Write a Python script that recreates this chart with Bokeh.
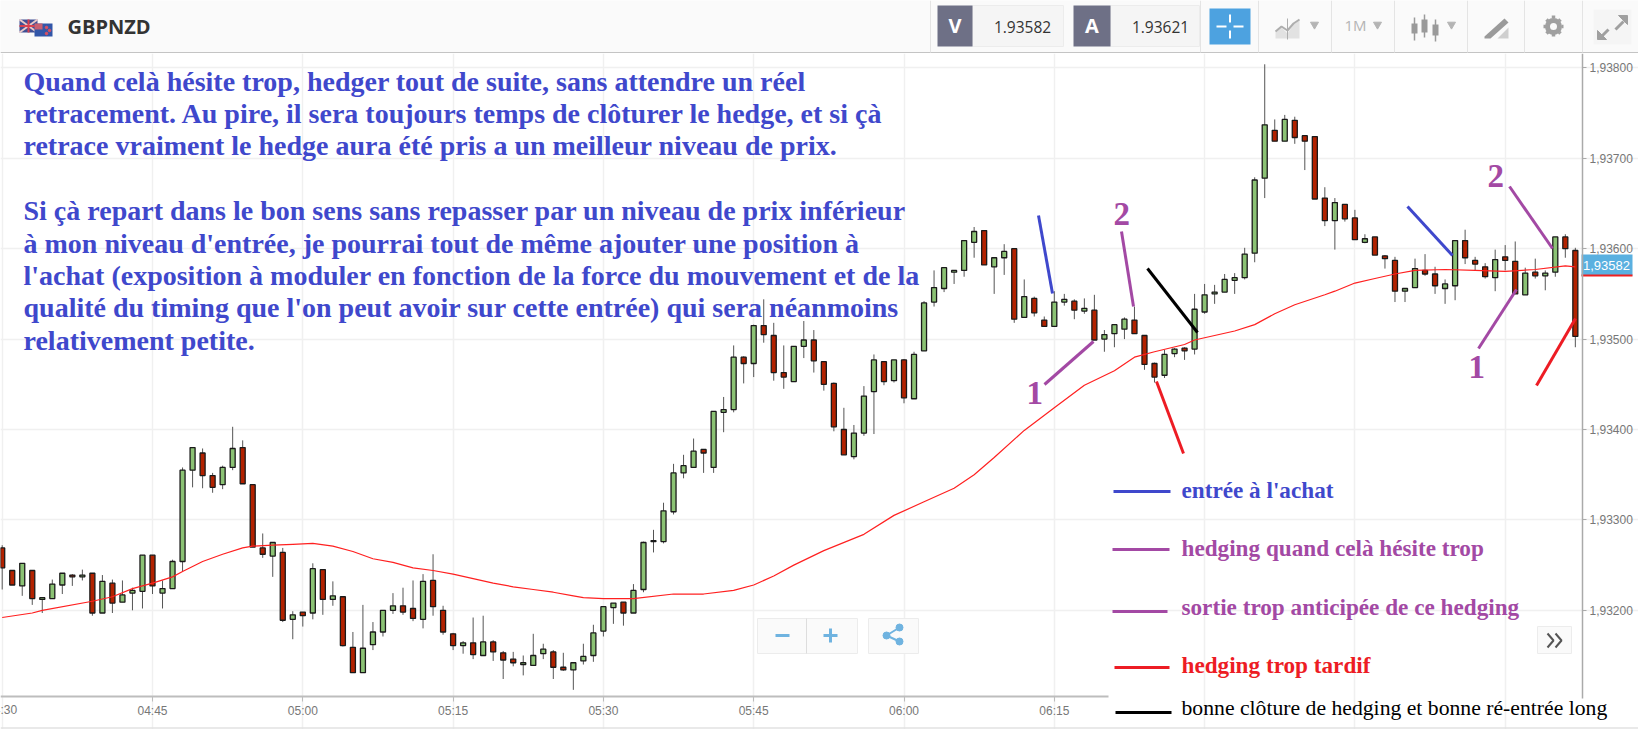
from bokeh.plotting import figure
from bokeh.layouts import column
from bokeh.models import Range1d, FixedTicker, CustomJSTickFormatter
from bokeh.core.properties import value
from bokeh.embed import file_html
from bokeh.resources import INLINE

# ---- data: one-minute candles, last five digits of the price (1.93xxx) ----
first_minute = 270  # 04:30
highs = [93272,93244,93252,93244,93214,93234,93241,93240,93245,93241,93239,93234,93233,93225,93261,93261,93233,93256,93358,93380,
93379,93352,93360,93403,93388,93339,93285,93275,93269,93199,93198,93252,93245,93232,93215,93176,93206,93187,93200,93219,
93225,93233,93240,93262,93205,93175,93166,93192,93194,93167,93155,93154,93150,93174,93163,93156,93153,93142,93163,93184,
93204,93208,93209,93229,93276,93289,93319,93362,93372,93390,93378,93420,93436,93493,93481,93516,93544,93518,93493,93492,
93520,93510,93475,93452,93424,93405,93448,93483,93475,93477,93478,93486,93542,93576,93579,93576,93609,93624,93620,93590,
93605,93600,93566,93547,93525,93553,93550,93544,93545,93549,93510,93516,93524,93536,93504,93474,93488,93490,93491,93550,
93561,93560,93572,93573,93601,93679,93804,93743,93748,93746,93725,93724,93668,93656,93649,93643,93616,93613,93593,93591,
93556,93589,93594,93580,93566,93609,93621,93591,93584,93599,93604,93608,93579,93589,93576,93613,93616,93601]
opens = [93269,93244,93227,93244,93212,93213,93228,93239,93237,93241,93197,93230,93209,93219,93221,93261,93219,93224,93254,93355,
93374,93349,93339,93358,93380,93339,93269,93260,93264,93190,93198,93197,93245,93212,93215,93159,93131,93162,93176,93200,
93205,93202,93190,93233,93200,93174,93161,93164,93150,93165,93153,93146,93140,93139,93152,93154,93137,93134,93144,93150,
93177,93203,93209,93197,93223,93276,93276,93309,93352,93358,93378,93358,93419,93422,93480,93473,93515,93504,93463,93453,
93492,93499,93475,93451,93400,93370,93396,93442,93475,93454,93477,93434,93487,93541,93556,93574,93576,93607,93620,93580,
93590,93600,93524,93545,93521,93514,93541,93542,93531,93532,93500,93506,93511,93521,93504,93473,93460,93484,93490,93489,
93530,93550,93552,93565,93568,93595,93678,93731,93719,93742,93725,93724,93656,93631,93649,93634,93607,93613,93592,93587,
93553,93557,93576,93572,93556,93559,93609,93587,93580,93568,93591,93586,93549,93574,93570,93574,93613,93598]
closes = [93247,93228,93252,93213,93214,93229,93241,93237,93239,93197,93232,93208,93217,93222,93261,93227,93224,93254,93355,93380,
93349,93336,93358,93379,93340,93270,93262,93275,93189,93195,93194,93246,93212,93216,93161,93131,93158,93176,93200,93205,
93198,93191,93232,93204,93176,93161,93164,93151,93165,93154,93145,93142,93142,93150,93157,93137,93134,93142,93149,93175,
93204,93208,93197,93222,93275,93277,93310,93352,93360,93376,93374,93420,93422,93480,93473,93515,93505,93463,93458,93492,
93499,93476,93450,93403,93372,93396,93437,93477,93453,93477,93435,93483,93540,93557,93579,93576,93609,93619,93582,93590,
93597,93522,93547,93529,93514,93541,93544,93532,93534,93499,93505,93516,93522,93506,93472,93458,93483,93489,93487,93533,
93549,93552,93566,93568,93594,93676,93737,93719,93743,93723,93719,93655,93631,93651,93633,93610,93611,93593,93589,93553,
93556,93578,93572,93559,93561,93609,93590,93583,93569,93588,93587,93550,93573,93570,93573,93613,93600,93503]
lows = [93223,93228,93216,93206,93197,93213,93218,93227,93233,93194,93197,93197,93209,93200,93202,93218,93202,93224,93243,93336,
93335,93330,93334,93355,93340,93270,93258,93237,93187,93168,93182,93190,93195,93205,93160,93131,93131,93156,93171,93196,
93195,93188,93180,93194,93173,93156,93152,93146,93150,93144,93124,93138,93128,93139,93146,93124,93133,93112,93140,93143,
93171,93185,93183,93197,93220,93264,93274,93306,93346,93358,93352,93352,93397,93419,93451,93458,93496,93454,93445,93453,
93479,93463,93443,93398,93372,93367,93393,93395,93449,93452,93429,93434,93487,93536,93552,93561,93569,93590,93582,93550,
93571,93518,93524,93525,93514,93514,93537,93522,93528,93499,93486,93491,93500,93506,93466,93452,93457,93480,93477,93483,
93528,93539,93552,93550,93566,93585,93656,93719,93719,93716,93687,93655,93625,93599,93630,93610,93606,93593,93578,93541,
93541,93557,93570,93550,93539,93543,93583,93576,93567,93553,93576,93550,93549,93567,93554,93569,93590,93491]

avg_minutes = [270,273,274,279,281,283,285,287,288,290,292,294,295,297,299,301,303,305,307,309,311,313,315,317,319,321,323,325,327,328,330,333,337,340,343,345,347,349,352,356,359,362,365,367,369,372,375,378,381,383,385,388,389,393,395,397,399,402,403,405,407,409,411,414,417,420,423,426,427]
avg_values = [93192,93197,93200,93210,93215,93224,93230,93237,93243,93254,93262,93269,93271,93272,93273,93274,93271,93265,93257,93253,93247,93244,93240,93235,93230,93226,93223,93220,93216,93214,93213,93213,93218,93218,93222,93228,93238,93250,93266,93284,93305,93320,93335,93350,93369,93399,93424,93449,93465,93480,93486,93494,93499,93509,93516,93528,93538,93549,93553,93562,93567,93572,93576,93577,93576,93575,93577,93581,93580]

price_ticks = [1.932, 1.933, 1.934, 1.935, 1.936, 1.937, 1.938]
time_ticks = [285, 300, 315, 330, 345, 360, 375]
time_labels = ["04:45", "05:00", "05:15", "05:30", "05:45", "06:00", "06:15"]
clipped_time_tick, clipped_time_label = 270, "04:30"
grid_times = [270, 285, 300, 315, 330, 345, 360, 375, 390, 405, 420]
symbol, bid, ask, last_price = "GBPNZD", "1.93582", "1.93621", "1,93582"

body_lines = ["Quand celà hésite trop, hedger tout de suite, sans attendre un réel",
 "retracement. Au pire, il sera toujours temps de clôturer le hedge, et si çà",
 "retrace vraiment le hedge aura été pris a un meilleur niveau de prix.",
 "",
 "Si çà repart dans le bon sens sans repasser par un niveau de prix inférieur",
 "à mon niveau d'entrée, je pourrai tout de même ajouter une position à",
 "l'achat (exposition à moduler en fonction de la force du mouvement et de la",
 "qualité du timing que l'on peut avoir sur cette entrée) qui sera néanmoins",
 "relativement petite."]

BLUE, PURPLE, RED, BLACK = "#3f48cc", "#a349a4", "#ed1c24", "#000000"
legend_items = [("entrée à l'achat", BLUE, "bold"), ("hedging quand celà hésite trop", PURPLE, "bold"),
 ("sortie trop anticipée de ce hedging", PURPLE, "bold"), ("hedging trop tardif", RED, "bold"),
 ("bonne clôture de hedging et bonne ré-entrée long", BLACK, "normal")]

# ---- page geometry (window pixels) ----
def wx(px): return 285 + (px - 152) / 10.02
def wy(py): return 1.934 + (429 - py) * 1.1062e-5
def price(v): return [1 + a / 1e5 for a in v]

# ---- header strip ----
h = figure(width=1638, height=53, x_range=Range1d(0, 1638), y_range=Range1d(53, 0),
           toolbar_location=None, output_backend="svg", min_border=0,
           x_axis_type=None, y_axis_type=None, background_fill_color="#fafafa", outline_line_color=None)
h.grid.visible = False
h.segment([0], [52.5], [1638], [52.5], line_color="#c4c4c4", line_width=2)
# flags
h.quad(left=[19], right=[37], top=[19], bottom=[32], fill_color="#3f4f94", line_color=None)
h.multi_line([[19, 37], [19, 37], [28, 28], [19, 37]], [[19, 32], [32, 19], [19, 32], [25.5, 25.5]],
             line_color=["#e8c8c8", "#e8c8c8", "#d8404f", "#d8404f"], line_width=2)
h.quad(left=[34], right=[52], top=[23], bottom=[36], fill_color="#3256a8", line_color=None)
h.quad(left=[34], right=[42], top=[23], bottom=[29], fill_color="#c86070", line_color=None)
h.scatter([46, 49, 46], [27, 30, 33], size=2.5, color="#e05060")
h.text([67], [26], text=[symbol], text_font=value("Open Sans"), text_font_style="bold",
       text_font_size="20px", text_color="#333333", text_baseline="alphabetic")
# separators
h.segment([930, 1200, 1258, 1331, 1394, 1467, 1524, 1582], [0] * 8, [930, 1200, 1258, 1331, 1394, 1467, 1524, 1582], [52] * 8,
          line_color="#e4e4e4", line_width=1)
# bid / ask boxes
h.quad(left=[972, 1110], right=[1063, 1199], top=[5, 5], bottom=[46, 46], fill_color="#f5f5f5", line_color="#ececec")
h.quad(left=[937, 1073], right=[972, 1110], top=[5, 5], bottom=[46, 46], fill_color="#6e7086", line_color=None)
h.text([954.5, 1091.5], [25, 25], text=["V", "A"], text_font=value("Open Sans"), text_font_style="bold", text_font_size="20px",
       text_color="#ffffff", text_align="center", text_baseline="alphabetic")
h.text([1022, 1160], [26, 26], text=[bid, ask], text_font=value("Open Sans"), text_font_size="15.5px",
       text_color="#333333", text_align="center", text_baseline="alphabetic")
# crosshair button
h.quad(left=[1209], right=[1250], top=[8], bottom=[44], fill_color="#4da2e0", line_color=None)
h.segment([1216, 1233, 1229.5, 1229.5], [26, 26, 14, 30], [1226, 1243, 1229.5, 1229.5], [26, 26, 22, 38], line_color="#ffffff", line_width=2)
# chart-type icon
h.patch([1275, 1275, 1281, 1287, 1293, 1299, 1299], [38, 31, 27, 33, 24, 20, 38], fill_color="#e2e2e2", line_color=None)
h.multi_line([[1275, 1281, 1287, 1293, 1299]], [[31, 26, 30, 23, 19]], line_color="#aeaeae", line_width=2)
h.segment([1287], [18], [1287], [39], line_color="#aeaeae", line_width=1)
# carets
h.scatter([1314, 1377, 1451], [24, 24, 24], marker="inverted_triangle", size=8, color="#b4b4b4")
h.text([1355], [24], text=["1M"], text_font=value("Open Sans"), text_font_size="15px", text_color="#b4b4b4",
       text_align="center", text_baseline="alphabetic")
# candle icon
h.segment([1414, 1424, 1435], [17, 14, 19], [1414, 1424, 1435], [40, 37, 41], line_color="#9a9a9a", line_width=1.5)
h.quad(left=[1411, 1421, 1432], right=[1417, 1427, 1438], top=[23, 19, 24], bottom=[33, 32, 35], fill_color="#9a9a9a", line_color=None)
# drawing icon
h.patch([1484, 1504, 1508, 1490, 1484], [36, 18, 22, 38, 38], fill_color="#9a9a9a", line_color=None)
h.patch([1497, 1508, 1508], [38, 38, 27], fill_color="#cfcfcf", line_color=None)
# gear icon
h.annulus([1553], [26], inner_radius=3.5, outer_radius=8.5, fill_color="#a0a0a0", line_color=None)
h.segment([1553, 1543, 1546, 1546], [15, 26, 19, 33], [1553, 1563, 1560, 1560], [37, 26, 33, 19], line_color="#a0a0a0", line_width=3.5, line_dash="3 15")
# expand icon
h.quad(left=[1593], right=[1631], top=[9], bottom=[44], fill_color="#f5f5f5", line_color=None)
h.segment([1600, 1615], [37, 29], [1608, 1623], [29, 21], line_color="#a0a0a0", line_width=3)
h.patch([1618, 1627, 1627], [15, 15, 24], fill_color="#a0a0a0", line_color="#a0a0a0")
h.patch([1597, 1597, 1606], [30, 39, 39], fill_color="#a0a0a0", line_color="#a0a0a0")

# ---- main chart ----
p = figure(width=1638, height=676, x_range=Range1d(wx(0), wx(1638)), y_range=Range1d(wy(729), wy(53)),
           toolbar_location=None, output_backend="svg", min_border=0, outline_line_color=None,
           x_axis_location="below", y_axis_location="right")
p.xgrid.ticker = FixedTicker(ticks=grid_times)
p.ygrid.ticker = FixedTicker(ticks=price_ticks)
p.grid.grid_line_color = "#f0f0f0"
p.grid.grid_line_width = 1.5

# hide grid beyond the axes
p.quad(left=[wx(1583)], right=[wx(1640)], top=[wy(53)], bottom=[wy(729)], fill_color="#ffffff", line_color=None, level="underlay")
p.quad(left=[wx(0)], right=[wx(1640)], top=[wy(696)], bottom=[wy(729)], fill_color="#ffffff", line_color=None, level="underlay")
p.segment([wx(0)], [wy(727.5)], [wx(1638)], [wy(727.5)], line_color="#e2e2e2", line_width=1.5)

xa = p.xaxis[0]
xa.fixed_location = wy(695.5)
xa.bounds = (wx(0), wx(1108))
xa.ticker = FixedTicker(ticks=time_ticks)
xa.major_label_overrides = dict(zip(time_ticks, time_labels))
xa.axis_line_color = "#bdbdbd"
xa.axis_line_width = 2
xa.major_tick_line_color = "#bdbdbd"
xa.major_tick_in = 0
xa.major_tick_out = 5
xa.minor_tick_line_color = None
xa.major_label_text_color = "#777777"
xa.major_label_text_font = "Liberation Sans"
xa.major_label_text_font_size = "12px"
xa.major_label_standoff = 3
# the first time label runs off the left edge of the chart, as in the reference
p.text([clipped_time_tick], [wy(709)], text=[clipped_time_label], text_font=value("Liberation Sans"), text_font_size="12px",
       text_color="#777777", text_align="center", text_baseline="middle")

ya = p.yaxis[0]
ya.fixed_location = wx(1582)
ya.bounds = (wy(698), wy(53))
ya.ticker = FixedTicker(ticks=price_ticks)
ya.formatter = CustomJSTickFormatter(code="return tick.toFixed(5).replace('.', ',')")
ya.axis_line_color = "#aaaaaa"
ya.axis_line_width = 1.5
ya.major_tick_line_color = "#aaaaaa"
ya.major_tick_in = 0
ya.major_tick_out = 4
ya.minor_tick_line_color = None
ya.major_label_text_color = "#777777"
ya.major_label_text_font = "Liberation Sans"
ya.major_label_text_font_size = "12px"
ya.major_label_standoff = 3

minutes = [first_minute + i for i in range(len(highs))]
fills = ["#8bc274" if c >= o else "#b22200" for o, c in zip(opens, closes)]
p.segment(minutes, price(highs), minutes, price(lows), line_color="#555555", line_width=1)
p.vbar(x=minutes, width=0.5, top=price(closes), bottom=price(opens), fill_color=fills, line_color="#1a1a1a", line_width=1.3)
p.line(avg_minutes, price(avg_values), line_color="#ff2020", line_width=1.2)

# last price badge
p.quad(left=[wx(1581)], right=[wx(1632)], top=[wy(254)], bottom=[wy(275)], fill_color="#5ab0e0", line_color=None)
p.segment([wx(1581)], [wy(275)], [wx(1632)], [wy(275)], line_color="#f02020", line_width=2)
p.text([wx(1606)], [wy(265)], text=[last_price], text_font=value("Liberation Sans"), text_font_size="13px",
       text_color="#ffffff", text_align="center", text_baseline="alphabetic")

# zoom / share buttons
p.quad(left=[wx(757), wx(868)], right=[wx(857), wx(918)], top=[wy(618), wy(618)], bottom=[wy(653), wy(653)],
       fill_color="#fafafa", line_color="#ececec")
p.segment([wx(806)], [wy(618)], [wx(806)], [wy(653)], line_color="#dddddd")
p.segment([wx(775), wx(823), wx(830)], [wy(635), wy(635), wy(628)], [wx(789), wx(837), wx(830)], [wy(635), wy(635), wy(642)],
          line_color="#6fb3e0", line_width=3)
p.multi_line([[wx(899), wx(886), wx(899)]], [[wy(627), wy(635), wy(641)]], line_color="#6fb3e0", line_width=2)
p.scatter([wx(899), wx(886), wx(899)], [wy(627), wy(635), wy(641)], size=7, color="#6fb3e0")
# pan-right button
p.quad(left=[wx(1537)], right=[wx(1571)], top=[wy(626)], bottom=[wy(653)], fill_color="#fafafa", line_color="#ececec")
p.multi_line([[wx(1547), wx(1553), wx(1547)], [wx(1555), wx(1561), wx(1555)]], [[wy(633), wy(640), wy(647)], [wy(633), wy(640), wy(647)]],
             line_color="#555555", line_width=2)

# hand-drawn annotation strokes
strokes = [(1038, 215, 1052, 293, BLUE), (1044, 384, 1093, 341, PURPLE), (1121, 231, 1133, 306, PURPLE),
           (1147, 268, 1197, 332, BLACK), (1156, 381, 1183, 453, RED), (1407, 206, 1452, 255, BLUE),
           (1509, 186, 1552, 248, PURPLE), (1478, 348, 1516, 289, PURPLE), (1575, 318, 1536, 385, RED)]
p.segment([wx(s[0]) for s in strokes], [wy(s[1]) for s in strokes], [wx(s[2]) for s in strokes], [wy(s[3]) for s in strokes],
          line_color=[s[4] for s in strokes], line_width=3)
p.text([wx(1026), wx(1113), wx(1487), wx(1468)], [wy(392), wy(213), wy(175), wy(366)], text=["1", "2", "2", "1"],
       text_font=value("Liberation Serif"), text_font_style="bold", text_font_size="33px", text_color=PURPLE, text_baseline="alphabetic")

# commentary
for i, line in enumerate(body_lines):
    if line:
        p.text([wx(23)], [wy(80.5 + i * 32.4)], text=[line], text_font=value("Liberation Serif"), text_font_style="bold",
               text_font_size="28px", text_color=BLUE, text_baseline="alphabetic")

# key
key_lines = [(1113, 1170, 491), (1112, 1169, 549), (1112, 1167, 611), (1114, 1169, 667), (1115, 1171, 712)]
key_bases = [489, 547, 606, 664, 707]
for (label, col, style), (a, b, y), base in zip(legend_items, key_lines, key_bases):
    p.segment([wx(a)], [wy(y)], [wx(b)], [wy(y)], line_color=col, line_width=3)
    p.text([wx(1181)], [wy(base)], text=[label], text_font=value("Liberation Serif"), text_font_style=style,
           text_font_size="23.2px" if style == "bold" else "21.7px", text_color=col, text_baseline="alphabetic")

page = column(h, p, spacing=0)
open("out.html", "w").write(file_html(page, INLINE))
